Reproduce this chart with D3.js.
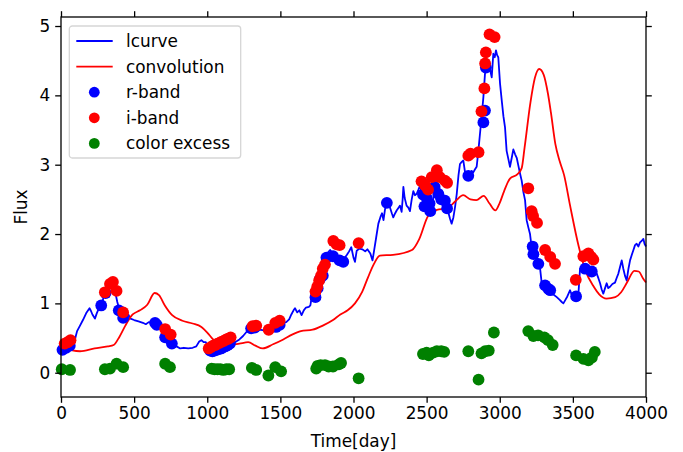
<!DOCTYPE html>
<meta charset="utf-8">
<style>
body { margin: 0; background: #fff; }
text { font-family: "DejaVu Sans", sans-serif; font-size: 16.9px; fill: #000; }
.tick line { stroke: #000; stroke-width: 1.3; }
</style>
<body>
<script src="https://cdn.jsdelivr.net/npm/d3@7"></script>
<script>

// lcurve (blue line)
var lcurveDays = [0,20,45,70,90,100,110,130,150,175,195,205,215,232,245,260,278,295,315,335,355,372,385,400,420,440,460,475,500,530,560,580,600,620,643,665,690,710,735,760,790,815,840,870,900,925,945,960,975,990,1005,1020,1040,1070,1100,1130,1160,1190,1220,1245,1265,1290,1310,1335,1360,1385,1400,1420,1445,1475,1490,1510,1540,1560,1575,1590,1600,1615,1630,1645,1660,1675,1695,1705,1715,1735,1760,1775,1795,1810,1840,1860,1885,1910,1935,1955,1970,1985,2000,2010,2022,2040,2060,2080,2095,2115,2130,2140,2155,2170,2185,2195,2205,2215,2228,2240,2250,2262,2272,2285,2295,2308,2318,2329,2336,2341,2350,2363,2375,2386,2398,2409,2420,2432,2444,2455,2466,2477,2490,2505,2520,2535,2550,2565,2580,2595,2610,2625,2637,2650,2660,2671,2683,2695,2706,2718,2728,2740,2751,2762,2774,2785,2797,2808,2819,2830,2842,2853,2865,2876,2888,2899,2911,2922,2933,2945,2956,2966,2974,2982,2990,3002,3015,3025,3036,3047,3059,3070,3082,3093,3105,3116,3128,3139,3150,3162,3173,3184,3195,3207,3218,3235,3253,3265,3275,3287,3305,3332,3360,3390,3410,3424,3435,3446,3462,3481,3492,3503,3520,3538,3549,3565,3584,3600,3617,3640,3663,3675,3686,3697,3708,3720,3731,3742,3754,3770,3788,3800,3811,3822,3834,3845,3856,3868,3880,3891,3903,3914,3925,3936,3948,3959,3970,3982,3990,4000];
var lcurveFlux = [0.33,0.35,0.37,0.40,0.43,0.52,0.60,0.68,0.76,0.87,0.93,0.89,0.84,0.78,0.86,0.93,0.98,1.12,1.20,1.27,1.25,1.15,1.02,0.90,0.80,0.79,0.84,0.78,0.76,0.74,0.72,0.70,0.73,0.72,0.73,0.68,0.63,0.54,0.49,0.42,0.38,0.35,0.36,0.35,0.36,0.38,0.45,0.47,0.44,0.44,0.37,0.32,0.30,0.32,0.34,0.37,0.41,0.44,0.48,0.53,0.58,0.64,0.62,0.60,0.62,0.61,0.64,0.63,0.66,0.72,0.70,0.71,0.73,0.77,0.84,0.90,0.93,0.87,0.90,0.83,0.90,0.94,0.95,0.97,1.10,1.18,1.25,1.37,1.55,1.70,1.77,1.72,1.69,1.64,1.64,1.70,1.75,1.81,1.66,1.60,1.76,1.79,1.78,1.75,1.78,1.72,1.62,1.75,1.95,2.15,2.25,2.30,2.20,2.35,2.46,2.43,2.38,2.30,2.24,2.30,2.34,2.38,2.41,2.32,2.50,2.68,2.52,2.41,2.38,2.33,2.50,2.62,2.56,2.58,2.64,2.70,2.60,2.50,2.40,2.52,2.45,2.34,2.60,2.66,2.57,2.50,2.53,2.46,2.39,2.30,2.22,2.15,2.24,2.40,2.58,2.85,3.01,3.04,3.06,2.90,2.82,2.86,2.85,2.91,2.89,2.93,2.97,3.18,3.45,3.69,3.97,4.31,4.45,4.40,4.38,4.26,4.60,4.55,4.65,4.58,4.55,4.17,3.90,3.70,3.54,3.20,3.08,2.97,3.10,3.22,3.15,3.10,2.98,2.87,2.77,2.60,2.49,2.20,2.10,2.00,1.81,1.75,1.67,1.58,1.52,1.29,1.25,1.19,1.14,1.09,1.05,1.02,1.00,1.04,1.10,1.19,1.12,1.09,1.12,1.14,1.50,1.52,1.57,1.55,1.52,1.47,1.43,1.36,1.29,1.20,1.14,1.22,1.29,1.22,1.24,1.28,1.30,1.37,1.43,1.52,1.62,1.50,1.40,1.33,1.50,1.62,1.70,1.77,1.84,1.86,1.82,1.88,1.90,1.93,1.86,1.82];

// convolution (red line)
var convDays = [0,60,130,230,320,360,400,440,490,540,590,640,670,710,760,830,900,960,1000,1040,1090,1150,1220,1280,1330,1380,1450,1520,1580,1640,1720,1790,1860,1910,1960,2010,2060,2100,2140,2180,2270,2400,2450,2510,2570,2640,2700,2750,2800,2840,2890,2930,2970,3000,3030,3070,3120,3150,3170,3210,3240,3270,3300,3330,3350,3380,3410,3440,3480,3540,3590,3640,3680,3730,3790,3830,3870,3920,3950,3980,4000];
var convFlux = [0.36,0.33,0.31,0.35,0.38,0.40,0.52,0.68,0.84,0.90,0.98,1.15,1.12,0.97,0.83,0.75,0.71,0.66,0.58,0.48,0.40,0.40,0.42,0.44,0.39,0.35,0.41,0.48,0.55,0.60,0.62,0.68,0.76,0.84,0.90,1.00,1.17,1.38,1.57,1.69,1.70,1.77,1.93,2.26,2.35,2.37,2.48,2.56,2.50,2.49,2.55,2.44,2.34,2.45,2.62,2.80,2.86,2.95,3.25,3.90,4.25,4.38,4.30,4.02,3.75,3.30,3.05,2.85,2.42,1.82,1.45,1.25,1.13,1.07,1.09,1.16,1.30,1.47,1.46,1.36,1.30];

// r-band (blue dots)
var rDays = [10,35,60,275,305,395,425,643,655,712,758,1020,1035,1050,1065,1080,1095,1110,1125,1140,1155,1300,1325,1470,1495,1740,1755,1770,1790,1815,1860,1905,1930,2228,2475,2485,2500,2520,2525,2555,2580,2600,2625,2640,2785,2888,2899,2905,3225,3230,3264,3310,3332,3345,3522,3584,3629];
var rFlux = [0.33,0.36,0.39,0.97,1.15,0.90,0.79,0.72,0.69,0.51,0.42,0.32,0.31,0.32,0.33,0.34,0.35,0.37,0.38,0.40,0.42,0.64,0.65,0.66,0.69,1.09,1.22,1.35,1.40,1.66,1.68,1.62,1.60,2.45,2.57,2.40,2.52,2.44,2.33,2.68,2.58,2.50,2.48,2.37,2.84,3.61,3.78,4.40,1.82,1.71,1.57,1.26,1.21,1.19,1.10,1.50,1.46];

// i-band (red dots)
var iDays = [25,45,65,300,335,355,380,425,712,750,1010,1025,1040,1055,1070,1085,1100,1115,1130,1145,1160,1310,1335,1420,1465,1495,1740,1752,1765,1778,1790,1805,1862,1885,1905,2035,2465,2490,2510,2535,2570,2590,2625,2640,2785,2800,2855,2875,2895,2900,2905,2930,2965,3195,3218,3228,3255,3310,3345,3378,3520,3572,3606,3625,3640];
var iFlux = [0.42,0.44,0.47,1.16,1.28,1.31,1.18,0.87,0.63,0.55,0.35,0.37,0.39,0.40,0.42,0.43,0.45,0.46,0.48,0.49,0.51,0.67,0.68,0.62,0.72,0.75,1.17,1.24,1.33,1.40,1.50,1.56,1.90,1.85,1.84,1.87,2.76,2.70,2.64,2.82,2.92,2.82,2.77,2.74,3.13,3.16,3.18,3.77,4.10,4.46,4.62,4.88,4.84,2.66,2.33,2.26,2.16,1.77,1.67,1.57,1.34,1.68,1.72,1.67,1.63];

// color excess (green dots)
var cDays = [5,62,300,335,380,425,712,745,1030,1050,1070,1090,1110,1130,1150,1305,1335,1418,1465,1505,1745,1755,1775,1805,1830,1860,1900,1915,2035,2475,2500,2515,2545,2570,2600,2620,2785,2855,2875,2900,2925,2960,3195,3230,3262,3305,3330,3362,3522,3572,3606,3630,3650];
var cFlux = [0.05,0.04,0.05,0.06,0.13,0.08,0.13,0.08,0.06,0.05,0.05,0.05,0.04,0.05,0.05,0.07,0.04,-0.04,0.08,0.02,0.06,0.10,0.11,0.11,0.09,0.09,0.12,0.14,-0.08,0.27,0.29,0.25,0.29,0.31,0.31,0.30,0.31,-0.10,0.28,0.31,0.32,0.58,0.60,0.53,0.54,0.51,0.47,0.40,0.25,0.20,0.18,0.22,0.30];

var xTicks = [0,500,1000,1500,2000,2500,3000,3500,4000];
var yTicks = [0,1,2,3,4,5];
var legendNames = ["lcurve","convolution","r-band","i-band","color excess"];

var margin = {top: 17, right: 37, bottom: 55, left: 61},
    width = 683 - margin.left - margin.right,
    height = 452 - margin.top - margin.bottom;

var x = d3.scaleLinear().domain([0, 4000]).range([0, width]);
var y = d3.scaleLinear().domain([-0.35, 5.13]).range([height, 0]);

var svg = d3.select("body").append("svg")
    .attr("width", 683)
    .attr("height", 452)
  .append("g")
    .attr("transform", "translate(" + margin.left + "," + margin.top + ")");

function zip(a, b) { return a.map(function(d, i) { return [d, b[i]]; }); }

var line = d3.line()
    .x(function(d) { return x(d[0]); })
    .y(function(d) { return y(d[1]); });

svg.append("path")
    .datum(zip(lcurveDays, lcurveFlux))
    .attr("fill", "none")
    .attr("stroke", "#0000ff")
    .attr("stroke-width", 1.8)
    .attr("stroke-linejoin", "round")
    .attr("d", line);

svg.append("path")
    .datum(zip(convDays, convFlux))
    .attr("fill", "none")
    .attr("stroke", "#ff0000")
    .attr("stroke-width", 1.8)
    .attr("d", line.curve(d3.curveMonotoneX));

function dots(days, flux, color) {
  svg.append("g").selectAll("circle")
      .data(zip(days, flux))
    .enter().append("circle")
      .attr("cx", function(d) { return x(d[0]); })
      .attr("cy", function(d) { return y(d[1]); })
      .attr("r", 5.9)
      .attr("fill", color);
}
dots(rDays, rFlux, "#0000ff");
dots(iDays, iFlux, "#ff0000");
dots(cDays, cFlux, "#008000");

// axes on all 4 sides, ticks outward
var fmt = d3.format("d");
svg.append("g")
    .attr("transform", "translate(0," + height + ")")
    .call(d3.axisBottom(x).tickValues(xTicks).tickFormat(fmt).tickSize(5.8).tickPadding(4.5).tickSizeOuter(0))
    .call(function(g) { g.select(".domain").remove(); });
svg.append("g")
    .call(d3.axisLeft(y).tickValues(yTicks).tickFormat(fmt).tickSize(5.8).tickPadding(5).tickSizeOuter(0))
    .call(function(g) { g.select(".domain").remove(); });
svg.append("g")
    .call(d3.axisTop(x).tickValues(xTicks).tickSize(5.8).tickFormat("").tickSizeOuter(0))
    .call(function(g) { g.select(".domain").remove(); });
svg.append("g")
    .attr("transform", "translate(" + width + ",0)")
    .call(d3.axisRight(y).tickValues(yTicks).tickSize(5.8).tickFormat("").tickSizeOuter(0))
    .call(function(g) { g.select(".domain").remove(); });

svg.selectAll(".tick text").attr("font-family", "DejaVu Sans");

svg.append("rect")
    .attr("width", width)
    .attr("height", height)
    .attr("fill", "none")
    .attr("stroke", "#000")
    .attr("stroke-width", 1.3);

svg.append("text")
    .attr("x", width / 2)
    .attr("y", 447 - margin.top)
    .style("text-anchor", "middle")
    .text("Time[day]");

svg.append("text")
    .attr("transform", "translate(" + (27 - margin.left) + "," + (height / 2) + ") rotate(-90)")
    .style("text-anchor", "middle")
    .text("Flux");

// legend
var legend = svg.append("g").attr("transform", "translate(" + (69.3 - margin.left) + "," + (26 - margin.top) + ")");
legend.append("rect")
    .attr("width", 171.4)
    .attr("height", 132)
    .attr("rx", 3)
    .attr("fill", "#fff")
    .attr("fill-opacity", 0.8)
    .attr("stroke", "#d6d6d6")
    .attr("stroke-width", 1.3);

var legendColors = ["#0000ff","#ff0000","#0000ff","#ff0000","#008000"];
legendNames.forEach(function(name, i) {
  var cy = 15 + i * 25.6;
  if (i < 2) {
    legend.append("line")
        .attr("x1", 7).attr("x2", 43.4)
        .attr("y1", cy).attr("y2", cy)
        .attr("stroke", legendColors[i])
        .attr("stroke-width", 1.8);
  } else {
    legend.append("circle")
        .attr("cx", 25).attr("cy", cy)
        .attr("r", 5.4)
        .attr("fill", legendColors[i]);
  }
  legend.append("text")
      .attr("x", 56.7)
      .attr("y", cy + 6)
      .text(name);
});

</script>
</body>
